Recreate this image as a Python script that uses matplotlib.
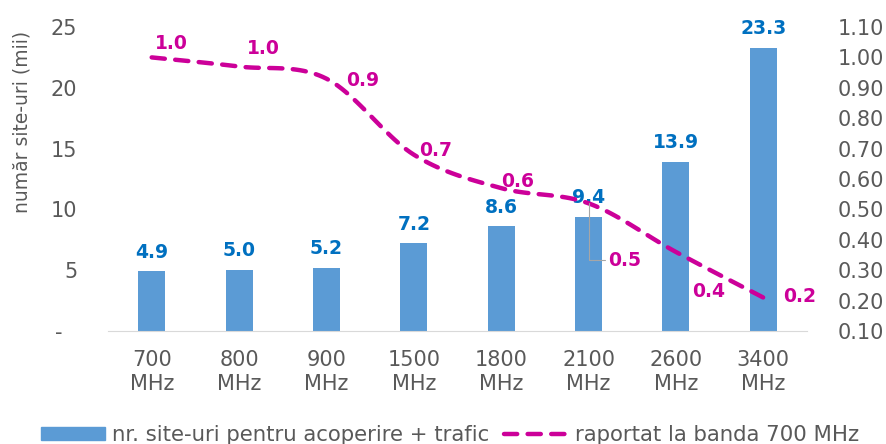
import numpy as np
import matplotlib
matplotlib.use("Agg")
import matplotlib.pyplot as plt
from matplotlib.lines import Line2D
from matplotlib.transforms import ScaledTranslation

# data
bands = ["700\nMHz", "800\nMHz", "900\nMHz", "1500\nMHz",
         "1800\nMHz", "2100\nMHz", "2600\nMHz", "3400\nMHz"]
sites = [4.9, 5.0, 5.2, 7.2, 8.6, 9.4, 13.9, 23.3]
ratio = [1.00, 0.97, 0.93, 0.68, 0.57, 0.52, 0.36, 0.21]
left_ticks = [0, 5, 10, 15, 20, 25]
left_tick_labels = ["-", "5", "10", "15", "20", "25"]
right_ticks = [0.1, 0.2, 0.3, 0.4, 0.5, 0.6, 0.7, 0.8, 0.9, 1.0, 1.1]

BAR = "#5B9BD5"
MAG = "#CC0099"
LBLUE = "#0070C0"
GREY = "#595959"
DASH = (0, (9.5, 7.5))

plt.rcParams["font.family"] = ["DejaVu Sans"]
plt.rcParams["lines.scale_dashes"] = False
plt.rcParams["path.simplify"] = False


def smooth(xs, ys, steps=24):
    # Excel-like smoothed line: Catmull-Rom segments drawn as cubic beziers
    p = np.column_stack([xs, ys]).astype(float)
    n = len(p)
    out = [p[:1]]
    t = np.linspace(0, 1, steps)[1:, None]
    for i in range(n - 1):
        p0, p1, p2, p3 = p[max(i - 1, 0)], p[i], p[i + 1], p[min(i + 2, n - 1)]
        c1 = p1 + (p2 - p0) / 6
        c2 = p2 - (p3 - p1) / 6
        seg = ((1 - t) ** 3) * p1 + 3 * ((1 - t) ** 2) * t * c1 \
            + 3 * (1 - t) * t ** 2 * c2 + t ** 3 * p2
        out.append(seg)
    out = np.vstack(out)
    return out[:, 0], out[:, 1]


fig = plt.figure(figsize=(8.86, 4.44), dpi=100)
ax = fig.add_axes([108 / 886, 1 - 331 / 444, 699 / 886, 304 / 444])
ax2 = ax.twinx()

x = np.arange(len(bands))
ax.bar(x, sites, width=0.31, color=BAR, zorder=2)
ax.set_xlim(-0.5, len(bands) - 0.5)
ax.set_ylim(0, 25)
ax.set_yticks(left_ticks)
ax.set_yticklabels(left_tick_labels)
ax.set_xticks(x)
ax.set_xticklabels(bands)
ax.tick_params(axis="both", length=0, labelsize=15, colors=GREY)
ax.tick_params(axis="y", pad=22)
ax.tick_params(axis="x", pad=14)
for lbl in ax.get_yticklabels():
    if lbl.get_text() == "-":
        lbl.set_transform(lbl.get_transform() +
                          ScaledTranslation(-15 / 100, 0, fig.dpi_scale_trans))
ax.set_ylabel("număr site-uri (mii)", fontsize=13.5, color=GREY)
ax.yaxis.set_label_coords(-0.109, 0.6875)

for s in ["top", "left", "right"]:
    ax.spines[s].set_visible(False)
    ax2.spines[s].set_visible(False)
ax.spines["bottom"].set_color("#D9D9D9")
ax2.spines["bottom"].set_visible(False)

for xi, v in zip(x, sites):
    ax.annotate(f"{v:.1f}", (xi, v), xytext=(0, 7), textcoords="offset points",
                ha="center", va="bottom", fontsize=13.5, fontweight="bold",
                color=LBLUE, zorder=5)

ax2.set_ylim(0.1, 1.1)
ax2.set_yticks(right_ticks)
ax2.set_yticklabels([f"{t:.2f}" for t in right_ticks])
ax2.tick_params(axis="y", length=0, labelsize=15, colors=GREY, pad=22)

sx, sy = smooth(x, ratio)
ax2.plot(sx, sy, color=MAG, lw=3.2, linestyle=DASH, dash_capstyle="round",
         zorder=3)

offsets = [(2, 3), (6, 6), (14, -8), (4, -4), (0, -2), (14, -48), (12, -35), (14, -6)]
for i, (xi, v) in enumerate(zip(x, ratio)):
    dx, dy = offsets[i]
    kw = {}
    if i == 5:
        kw["arrowprops"] = dict(arrowstyle="-", color="#A6A6A6", lw=0.8,
                                shrinkA=0, shrinkB=0,
                                connectionstyle="angle,angleA=0,angleB=90,rad=0")
    ax2.annotate(f"{v:.1f}", (xi, v), xytext=(dx, dy), textcoords="offset points",
                 ha="left", va="bottom", fontsize=13.5, fontweight="bold",
                 color=MAG, zorder=6, **kw)

handles = [plt.Rectangle((0, 0), 1, 1, color=BAR),
           Line2D([0], [0], color=MAG, lw=3.2, linestyle=DASH,
                  dash_capstyle="round")]
fig.legend(handles, ["nr. site-uri pentru acoperire + trafic",
                     "raportat la banda 700 MHz"],
           loc="center", bbox_to_anchor=(0.508, 1 - 435 / 444), ncol=2,
           frameon=False, fontsize=15.3, labelcolor=GREY, handlelength=3,
           handletextpad=0.35, columnspacing=0.7, handleheight=0.6)

fig.savefig("out.png", dpi=100)
